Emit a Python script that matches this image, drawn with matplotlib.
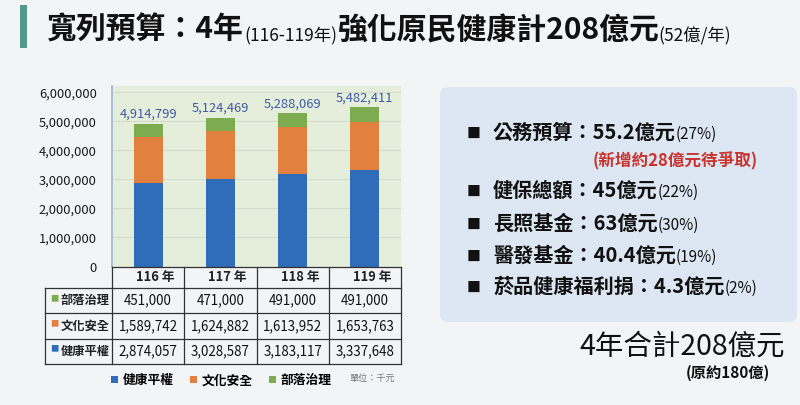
import numpy as np
import matplotlib.pyplot as plt
from matplotlib.patches import Rectangle, FancyBboxPatch
from matplotlib.transforms import blended_transform_factory

plt.rcParams['font.family'] = ['Noto Sans CJK TC', 'DejaVu Sans']

# ================ 資料 ================
YEARS = ['116 年', '117 年', '118 年', '119 年']
SERIES = ['健康平權', '文化安全', '部落治理']
HEALTH = [2874057, 3028587, 3183117, 3337648]
CULTURE = [1589742, 1624882, 1613952, 1653763]
TRIBE = [451000, 471000, 491000, 491000]
COLORS = ['#2f6dbb', '#e2803f', '#7dab4f']

# 右側說明
ITEMS = [
    ('公務預算：55.2億元', '(27%)'),
    ('健保總額：45億元', '(22%)'),
    ('長照基金：63億元', '(30%)'),
    ('醫發基金：40.4億元', '(19%)'),
    ('菸品健康福利捐：4.3億元', '(2%)'),
]
NOTE_RED = '(新增約28億元待爭取)'
TOTAL_TEXT = '4年合計208億元'
TOTAL_SUB = '(原約180億)'

BG = '#f3f4f6'
W, H = 800, 405

fig = plt.figure(figsize=(W / 100, H / 100), dpi=100, facecolor=BG)

# 畫布座標（像素）
ax0 = fig.add_axes([0, 0, 1, 1])
ax0.set_xlim(0, W)
ax0.set_ylim(H, 0)
ax0.axis('off')


def chain(prev, s, size, **kw):
    return ax0.annotate(s, xy=(1, 0), xycoords=prev, va='bottom', ha='left',
                        fontsize=size, **kw)


# ================ 標題 ================
ax0.add_patch(Rectangle((20, 5), 7, 43, color='#4f9a8b', lw=0))
t = ax0.text(47, 39, '寬列預算：4年', fontsize=21.5, va='baseline', color='#111', weight='bold')
t = chain(t, '(116-119年)', 12.5, color='#111')
t = chain(t, '強化原民健康計208億元', 21.5, color='#111', weight='bold')
chain(t, '(52億/年)', 12.5, color='#111')

# ================ 長條圖 ================
ax = fig.add_axes([112 / W, 1 - 266.5 / H, 289 / W, 180.5 / H])
ax.set_facecolor('#e5eedb')
x = np.arange(len(YEARS))
bottom = np.zeros(len(YEARS))
handles = []
for vals, name, c in zip([HEALTH, CULTURE, TRIBE], SERIES, COLORS):
    b = ax.bar(x, vals, 0.4, bottom=bottom, color=c, label=name, zorder=3)
    handles.append(b)
    bottom = bottom + np.array(vals)

for i, tot in enumerate(bottom):
    ax.annotate(f'{int(tot):,}', (i, tot), xytext=(0, 2), textcoords='offset points',
                ha='center', va='bottom', fontsize=9.3, color='#3f5aa6')

ax.set_xlim(-0.5, 3.5)
ax.set_ylim(0, 6.22e6)
ax.set_yticks(np.arange(0, 6000001, 1000000))
ax.set_yticklabels([f'{v:,}' for v in range(0, 6000001, 1000000)], fontsize=9.3, color='#1a1a1a')
ax.set_xticks([])
ax.tick_params(axis='y', length=0, pad=11)
ax.grid(axis='y', color='#d3dacb', lw=0.8, zorder=0)
for k in ['top', 'right', 'bottom']:
    ax.spines[k].set_visible(False)
ax.spines['left'].set_color('#9db5d6')
ax.spines['left'].set_linewidth(1.2)

# ================ 資料表 ================
tr = blended_transform_factory(ax.transData, ax.transAxes)
ROW_Y = [0, -0.1175, -0.2593, -0.3999, -0.5385]
LEFT = -1.431
LINE = dict(color='#333', lw=0.9, transform=tr, clip_on=False, zorder=5)
ax.plot([-0.5, 3.5], [ROW_Y[0]] * 2, **LINE)
for yy in ROW_Y[1:]:
    ax.plot([LEFT, 3.5], [yy, yy], **LINE)
ax.plot([LEFT, LEFT], [ROW_Y[1], ROW_Y[-1]], **LINE)
for xx in np.arange(-0.5, 4, 1):
    ax.plot([xx, xx], [ROW_Y[0], ROW_Y[-1]], **LINE)

for i, yr in enumerate(YEARS):
    ax.text(i + 0.1, (ROW_Y[0] + ROW_Y[1]) / 2, yr, transform=tr, ha='center', va='center',
            fontsize=9.3, weight='bold', color='#222')

table_rows = [(SERIES[2], TRIBE, COLORS[2]), (SERIES[1], CULTURE, COLORS[1]),
              (SERIES[0], HEALTH, COLORS[0])]
for r, (name, vals, c) in enumerate(table_rows):
    yc = (ROW_Y[r + 1] + ROW_Y[r + 2]) / 2
    ax.text(-1.362, yc + 0.012, '■', transform=tr, ha='left', va='center', fontsize=6, color=c)
    ax.text(-1.21, yc, name, transform=tr, ha='left', va='center', fontsize=8.8,
            weight='bold', color='#222')
    for i, v in enumerate(vals):
        ax.text(i, yc, f'{v:,}', transform=tr, ha='center', va='center', fontsize=9.6, color='#111')

# 圖例
leg = ax.legend(handles=handles, loc='center', bbox_to_anchor=(221.5 / W, 1 - 380.7 / H),
                bbox_transform=fig.transFigure, ncol=3, frameon=False,
                handlelength=0.5, handleheight=0.5, handletextpad=0.4, columnspacing=1.3,
                prop={'weight': 'bold', 'size': 9.2})
ax0.text(372, 378, '單位：千元', ha='center', va='center', fontsize=6.6, color='#777')

# ================ 右側說明 ================
ax0.add_patch(FancyBboxPatch((440, 87), 357, 235, boxstyle='round,pad=0,rounding_size=8',
                             fc='#dde7f3', ec='none'))
BASES = [139, 197, 230, 262, 293]
for (main, sub), yb in zip(ITEMS, BASES):
    ax0.text(467, yb - 1, '■', fontsize=10, va='baseline', color='#111')
    t = ax0.text(493, yb, main, fontsize=14.5, va='baseline', color='#111', weight='bold')
    chain(t, sub, 11, color='#111')
ax0.text(593, 166, NOTE_RED, fontsize=12, va='baseline', color='#c8332d', weight='bold')

ax0.text(785, 355, TOTAL_TEXT, fontsize=20.5, va='baseline', ha='right', color='#111')
ax0.text(770, 378, TOTAL_SUB, fontsize=11, va='baseline', ha='right', color='#111', weight='bold')

fig.savefig('out.png', dpi=100, facecolor=BG)
